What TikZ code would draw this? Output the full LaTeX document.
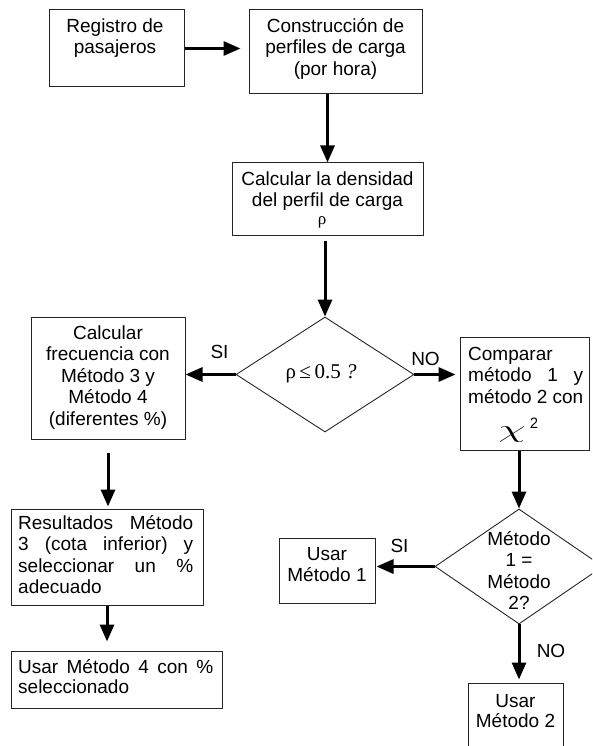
\documentclass[tikz,border=0pt]{standalone}
\usepackage{fontspec}
\setmainfont{Liberation Sans}
\newfontfamily\seriffont{Liberation Serif}
\usetikzlibrary{arrows.meta,shapes.geometric}
\newcommand\tstrut{\rule{0pt}{15pt}}
\begin{document}
\begin{tikzpicture}[x=1pt,y=-1pt,
  box/.style={draw=black!85,line width=1pt,inner sep=0pt,rectangle},
  dia/.style={draw=black!85,line width=0.9pt,inner sep=0pt,diamond},
  arr/.style={line width=3pt,-{Triangle[length=17pt,width=14pt]}},
  txt/.style={inner sep=0pt,font=\fontsize{19}{21.5}\selectfont},
  lab/.style={inner sep=0pt,anchor=base,font=\fontsize{19}{21.5}\selectfont}]
\useasboundingbox (0,0) rectangle (592,746);
\fill[white] (0,0) rectangle (592,746);
\clip (0,0) rectangle (592,746);

% boxes
\node[box,minimum width=135pt,minimum height=77pt] (b1) at (116.5,48.5) {};
\node[box,minimum width=173pt,minimum height=84pt] (b2) at (335.5,52) {};
\node[box,minimum width=191pt,minimum height=72pt] (b3) at (327.5,199) {};
\node[dia,minimum width=178pt,minimum height=115pt] (d1) at (325,374.5) {};
\node[box,minimum width=154pt,minimum height=122pt] (b4) at (108,378) {};
\node[box,minimum width=129pt,minimum height=113pt] (b5) at (524.5,393.5) {};
\node[box,minimum width=192pt,minimum height=96pt] (b6) at (107,557) {};
\node[box,minimum width=211pt,minimum height=57pt] (b7) at (116.5,679.5) {};
\node[dia,minimum width=168pt,minimum height=115pt] (d2) at (519,566.5) {};
\node[box,minimum width=96pt,minimum height=65pt] (b8) at (327,570.5) {};
\node[box,minimum width=95pt,minimum height=77pt] (b9) at (515.5,721.5) {};

% texts
\node[txt,anchor=north,align=center] (t1) at (115,17) {\tstrut Registro de\\pasajeros};
\node[txt,anchor=north,align=center] (t2) at (335.5,17) {\tstrut Construcción de\\perfiles de carga\\(por hora)};
\node[txt,anchor=north,align=center] (t3) at (327.5,170) {\tstrut Calcular la densidad\\del perfil de carga};
\node[inner sep=0pt,anchor=base,font=\seriffont\fontsize{17}{17}\selectfont] (rho) at (322,224) {ρ};
\node[inner sep=0pt,anchor=base,font=\seriffont\fontsize{21}{21}\selectfont] (q1) at (321,378) {ρ\,≤\,0.5\ \textit{?}};
\node[txt,anchor=north,align=center] (t4) at (108,324) {\tstrut Calcular\\frecuencia con\\Método 3 y\\Método 4\\(diferentes \%)};
\node[txt,anchor=north west,align=left] (t5) at (468,345) {\tstrut Comparar\\\makebox[115pt][s]{método 1 y}\\método 2 con};
\node[inner sep=0pt] (chi) at (512,435) {\fontsize{26}{26}\selectfont\scalebox{1.8}[1]{$\chi$}};
\node[inner sep=0pt,anchor=base,font=\fontsize{15}{15}\selectfont] (two) at (534,428) {2};
\node[txt,anchor=north west,align=left] (t6) at (18,514) {\tstrut\makebox[175pt][s]{Resultados Método}\\\makebox[175pt][s]{3 (cota inferior) y}\\\makebox[175pt][s]{seleccionar un \%}\\adecuado};
\node[txt,anchor=north west,align=left,font=\fontsize{19}{20}\selectfont] (t7) at (18,658) {\tstrut\makebox[195pt][s]{Usar Método 4 con \%}\\seleccionado};
\node[txt,anchor=north,align=center] (t8) at (327,545) {\tstrut Usar\\Método 1};
\node[txt,anchor=north,align=center] (td2) at (519,530) {\tstrut Método\\1 =\\Método\\2?};
\node[txt,anchor=north,align=center,font=\fontsize{19}{20}\selectfont] (t9) at (515.5,692) {\tstrut Usar\\Método 2};

% labels
\node[lab] (si1) at (219.5,358) {SI};
\node[lab] (no1) at (425.5,365) {NO};
\node[lab] (si2) at (399.5,552) {SI};
\node[lab] (no2) at (551,657) {NO};

% connectors
\draw[arr,shorten >=8pt] (b1.east) -- (b1.east -| b2.west);
\draw[arr] (b3.north |- b2.south) -- (b3.north);
\draw[arr,shorten <=5pt] (d1.north |- b3.south) -- (d1.north);
\draw[arr] (d1.west) -- (d1.west -| b4.east);
\draw[arr,shorten >=4pt] (d1.east) -- (d1.east -| b5.west);
\draw[arr,shorten <=13pt,shorten >=2pt] (b4.south) -- (b4.south |- b6.north);
\draw[arr,shorten >=9pt] (b6.south) -- (b6.south |- b7.north);
\draw[arr] (d2.north |- b5.south) -- (d2.north);
\draw[arr,shorten >=1pt] (d2.west) -- (d2.west -| b8.east);
\draw[arr,shorten >=3pt] (d2.south) -- (d2.south |- b9.north);
\end{tikzpicture}
\end{document}
